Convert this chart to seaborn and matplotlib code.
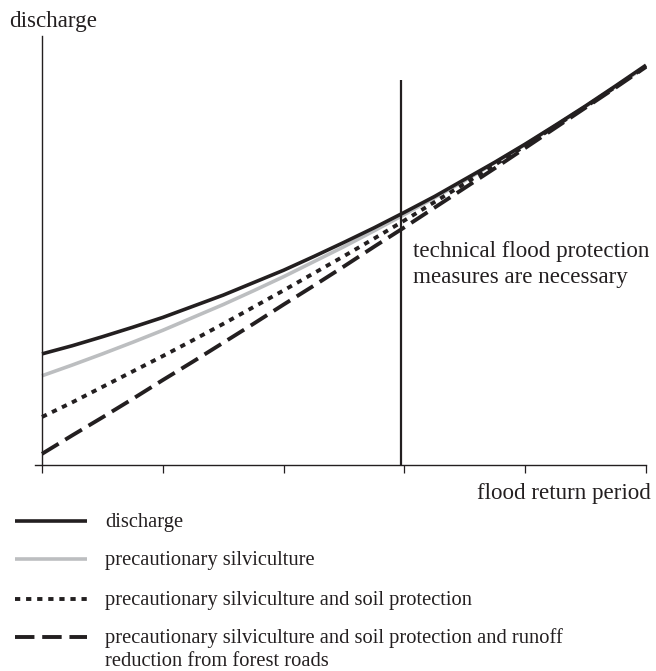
import matplotlib
matplotlib.use("Agg")
import matplotlib.pyplot as plt
import seaborn as sns
import pandas as pd
from matplotlib.lines import Line2D

# flood return period, unlabeled ticks
return_period = [0, 0.25, 0.5, 0.75, 1, 1.25, 1.5, 1.75, 2, 2.25, 2.5,
                 2.75, 3, 3.25, 3.5, 3.75, 4, 4.25, 4.5, 4.75, 5]
tick_positions = [0, 1, 2, 3, 4, 5]

# discharge curves (relative units)
discharge = [25.9, 27.8, 29.9, 32.1, 34.4, 37.0, 39.6, 42.5, 45.4, 48.6, 51.9,
             55.3, 58.9, 62.6, 66.6, 70.6, 74.8, 79.2, 83.7, 88.4, 93.2]
silviculture = [20.8, 23.3, 25.9, 28.6, 31.4, 34.4, 37.4, 40.6, 43.9, 47.4, 50.9,
                54.6, 58.4, 62.3, 66.3, 70.5, 74.7, 79.1, 83.6, 88.2, 93.0]
soil_protection = [11.2, 14.6, 18.2, 21.8, 25.4, 29.1, 32.9, 36.8, 40.7, 44.7, 48.7,
                   52.8, 57.0, 61.3, 65.6, 70.0, 74.4, 79.0, 83.5, 88.2, 92.9]
forest_roads = [2.6, 6.9, 11.1, 15.4, 19.8, 24.1, 28.5, 32.9, 37.4, 41.8, 46.3,
                50.9, 55.4, 60.0, 64.6, 69.2, 73.9, 78.6, 83.3, 88.0, 92.8]

series_labels = [
    "discharge",
    "precautionary silviculture",
    "precautionary silviculture and soil protection",
    "precautionary silviculture and soil protection and runoff",
]
label_continuation = "reduction from forest roads"

threshold = 2.97
threshold_top = 89.7

W, H = 656, 671
FONT = "Liberation Serif"
FS = 16.6
FS_LEG = 14.8
INK = "#231f20"

styles = [
    dict(color=INK, lw=2.6, linestyle="-"),
    dict(color="#bcbec0", lw=2.6, linestyle="-"),
    dict(color=INK, lw=2.8, linestyle=(0, (1.35, 1.5))),
    dict(color=INK, lw=2.8, linestyle=(0, (5.0, 2.0))),
]

sns.set_theme(style="white")
plt.rcParams["font.family"] = [FONT, "DejaVu Serif"]

df = pd.DataFrame(
    {
        "period": return_period * 4,
        "value": discharge + silviculture + soil_protection + forest_roads,
        "series": sum([[s] * len(return_period) for s in series_labels], []),
    }
)

fig = plt.figure(figsize=(W / 100, H / 100), dpi=100)
ax = fig.add_axes([35 / W, 1 - 465 / H, 611 / W, 429 / H])

# gray first, black discharge on top
for i in [1, 2, 3, 0]:
    sub = df[df["series"] == series_labels[i]]
    st = styles[i]
    sns.lineplot(
        data=sub, x="period", y="value", ax=ax, color=st["color"],
        linewidth=st["lw"], linestyle=st["linestyle"], clip_on=False,
        solid_capstyle="butt", dash_capstyle="butt", legend=False,
    )

ax.vlines(threshold, 0, threshold_top, color=INK, lw=1.6)

ax.set_xlim(-0.058, 5)
ax.set_ylim(0, 100)
ax.set_xticks(tick_positions)
ax.set_xticklabels([])
ax.set_yticks([])
ax.set_xlabel("")
ax.set_ylabel("")
ax.tick_params(axis="x", direction="out", length=6, width=0.9, color=INK, bottom=True)
sns.despine(ax=ax)
ax.spines["left"].set_position(("data", 0))
for s in ["left", "bottom"]:
    ax.spines[s].set_linewidth(1.0)
    ax.spines[s].set_color(INK)

# baseline given for the last line of the two-line note
ax.text(threshold + 0.1, 100 * (465 - 283) / 429,
        "technical flood protection\nmeasures are necessary",
        fontsize=FS, color=INK, va="baseline", ha="left", linespacing=1.32)

fig.text(9 / W, 1 - 27 / H, "discharge", fontsize=FS, color=INK, va="baseline")
fig.text(651 / W, 1 - 499 / H, "flood return period", fontsize=FS, color=INK,
         va="baseline", ha="right")

# legend drawn by hand so the dashed key sits on the first text line
rows = [521, 559, 599, 637]
for st, lab, y in zip(styles, series_labels, rows):
    fig.add_artist(Line2D([15 / W, 87 / W], [1 - y / H] * 2, color=st["color"],
                          lw=st["lw"], linestyle=st["linestyle"],
                          solid_capstyle="butt", dash_capstyle="butt"))
    fig.text(105 / W, 1 - (y + 6) / H, lab, fontsize=FS_LEG, color=INK, va="baseline")
fig.text(105 / W, 1 - (rows[-1] + 29) / H, label_continuation, fontsize=FS_LEG,
         color=INK, va="baseline")

fig.savefig("out.png", dpi=100)
